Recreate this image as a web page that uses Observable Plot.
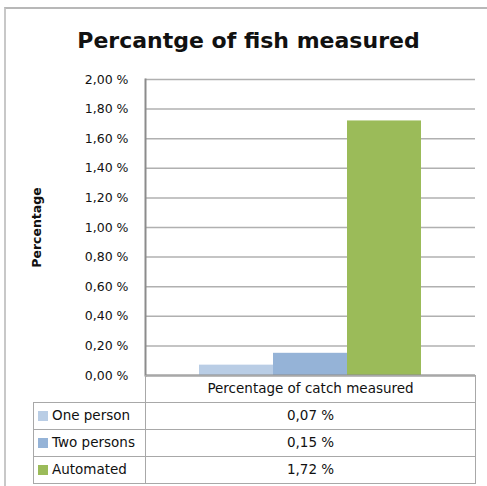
<!DOCTYPE html>
<html>
<head>
<meta charset="utf-8">
<script src="https://cdn.jsdelivr.net/npm/d3@7"></script>
<script src="https://cdn.jsdelivr.net/npm/@observablehq/plot@0.6"></script>
<style>
  html, body { margin: 0; padding: 0; background: #fff; }
  #wrap { position: relative; width: 487px; height: 486px; overflow: hidden; font-family: "DejaVu Sans", sans-serif; color: #000; }
  #frame { position: absolute; left: 4px; top: 7px; width: 500px; height: 500px; border-left: 2px solid #c8c8c8; border-top: 2px solid #b8b8b8; }
  #title { position: absolute; left: 0; width: 497px; top: 28px; text-align: center; font-size: 22px; line-height: 1.164; font-weight: bold; color: #111; }
  #chart { position: absolute; left: 0; top: 0; }
  #chart g[aria-label="y-axis label"] text { font-weight: bold; }
  .cell { position: absolute; box-sizing: border-box; border: 1px solid #a8a8a8; font-size: 13.5px; line-height: 25px; white-space: nowrap; color: #111; }
  .sw { display: inline-block; width: 10px; height: 10px; margin: 0 4px 0 4px; vertical-align: -1px; }
</style>
</head>
<body>
<div id="wrap">
  <div id="frame"></div>
  <div id="title">Percantge of fish measured</div>
  <div id="chart"></div>
  <div id="table"></div>
</div>
<script>
const title = "Percantge of fish measured";
const category = "Percentage of catch measured";
const series = ["One person", "Two persons", "Automated"];
const values = [0.07, 0.15, 1.72];
const colors = ["#b9cde5", "#95b3d7", "#9bbb59"];
const yTicks = [0, 0.2, 0.4, 0.6, 0.8, 1.0, 1.2, 1.4, 1.6, 1.8, 2.0];
const yLabel = "Percentage";

const fmt = d => d.toFixed(2).replace(".", ",") + " %";
const data = series.map((s, i) => ({series: s, value: values[i]}));

const chart = Plot.plot({
  width: 487,
  height: 486,
  marginLeft: 145,
  marginRight: 12,
  marginTop: 79,
  marginBottom: 111,
  style: {fontFamily: "'DejaVu Sans', sans-serif", fontSize: "12.5px", color: "#111", background: "transparent"},
  x: {domain: series, range: [199, 421], padding: 0, axis: null},
  y: {domain: [0, 2], axis: null},
  color: {domain: series, range: colors},
  marks: [
    Plot.gridY(yTicks, {stroke: "#b0b0b0", strokeOpacity: 1, strokeWidth: 1.5}),
    Plot.barY(data, {x: "series", y: "value", fill: "series"}),
    Plot.axisY({ticks: yTicks, tickFormat: fmt, tickSize: 0, tickPadding: 17, label: yLabel, labelAnchor: "center", labelOffset: 113, labelArrow: false}),
    Plot.frame({anchor: "left", stroke: "#8c8c8c", strokeWidth: 2}),
    Plot.ruleY([0], {stroke: "#8c8c8c", strokeWidth: 2})
  ]
});
document.getElementById("chart").appendChild(chart);

// data table below the plot, aligned to the plot frame
const table = d3.select("#table");
const x0 = 33, x1 = 145, x2 = 475, yTop = 375, rowH = 27;
table.append("div").attr("class", "cell")
  .style("left", x1 + "px").style("top", yTop + "px")
  .style("width", (x2 - x1 + 1) + "px").style("height", (rowH + 1) + "px")
  .style("text-align", "center").text(category);
series.forEach((s, i) => {
  const top = yTop + rowH * (i + 1);
  const c = table.append("div").attr("class", "cell")
    .style("left", x0 + "px").style("top", top + "px")
    .style("width", (x1 - x0 + 1) + "px").style("height", (rowH + 1) + "px");
  c.append("span").attr("class", "sw").style("background", colors[i]);
  c.append("span").text(s);
  table.append("div").attr("class", "cell")
    .style("left", x1 + "px").style("top", top + "px")
    .style("width", (x2 - x1 + 1) + "px").style("height", (rowH + 1) + "px")
    .style("text-align", "center").text(fmt(values[i]));
});
</script>
</body>
</html>
